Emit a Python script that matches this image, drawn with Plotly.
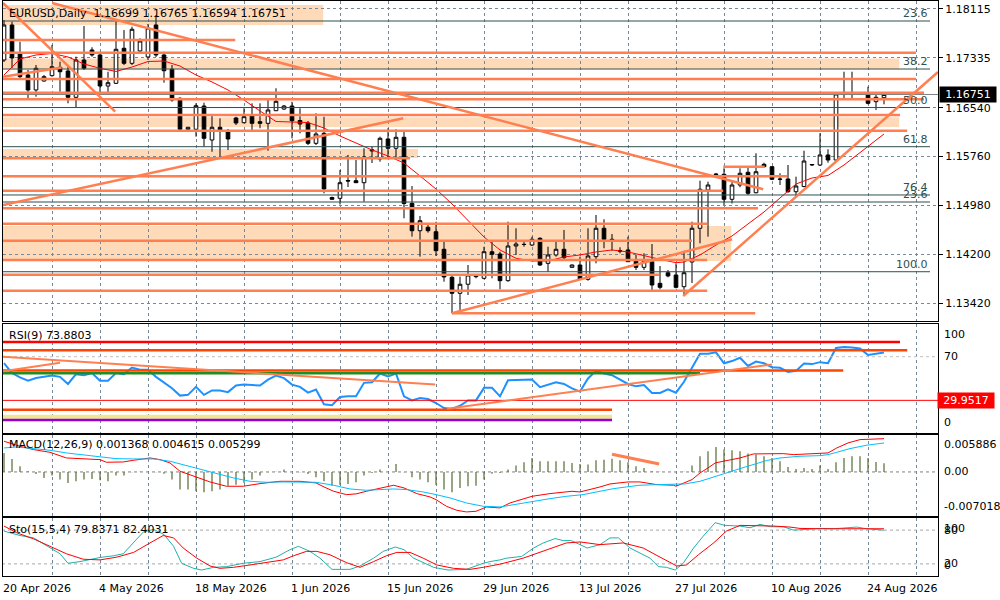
import plotly.graph_objects as go

# ---------------- EURUSD daily candles ----------------
opens = [1.17301, 1.17859, 1.17408, 1.17062, 1.16823, 1.16966, 1.17051, 1.17185, 1.17126, 1.16706,
         1.17301, 1.17461, 1.17381, 1.16886, 1.16929, 1.17488, 1.17248, 1.17445, 1.17349, 1.17859,
         1.17381, 1.17153, 1.16690, 1.16196, 1.16196, 1.16567, 1.16025, 1.16228, 1.16153, 1.16376,
         1.16301, 1.16408, 1.16317, 1.16291, 1.16492, 1.16519, 1.16567, 1.16336, 1.16296, 1.15972,
         1.16132, 1.15108, 1.15095, 1.15379, 1.15376, 1.15344, 1.15850, 1.15722, 1.16041, 1.15893,
         1.16068, 1.15015, 1.14578, 1.14633, 1.14562, 1.14282, 1.13835, 1.13580, 1.13724, 1.13845,
         1.13819, 1.14243, 1.14207, 1.13781, 1.14334, 1.14361, 1.14350, 1.14457, 1.14058, 1.14191,
         1.14282, 1.13994, 1.14031, 1.13803, 1.14164, 1.14617, 1.14441, 1.14259, 1.14271, 1.14095,
         1.13994, 1.14084, 1.13739, 1.13908, 1.13872, 1.13685, 1.14079, 1.14617, 1.15228, 1.15483,
         1.15478, 1.15079, 1.15307, 1.15510, 1.15184, 1.15637, 1.15599, 1.15403, 1.15403, 1.15200,
         1.15283, 1.15626, 1.15626, 1.15786, 1.15706, 1.16759, 1.16754, 1.16759, 1.16759, 1.16636,
         1.16699]
highs = [1.17939, 1.17912, 1.17593, 1.17142, 1.17221, 1.17062, 1.17540, 1.17274, 1.17194, 1.17354,
         1.17843, 1.17504, 1.17433, 1.17114, 1.17912, 1.17780, 1.17832, 1.17647, 1.17875, 1.18019,
         1.17433, 1.17221, 1.16706, 1.16232, 1.16610, 1.16620, 1.16440, 1.16371, 1.16201, 1.16397,
         1.16531, 1.16610, 1.16610, 1.16695, 1.16850, 1.16583, 1.16636, 1.16531, 1.16328, 1.16451,
         1.16397, 1.15121, 1.15547, 1.15786, 1.15706, 1.15893, 1.15922, 1.16078, 1.16212, 1.16196,
         1.16157, 1.15291, 1.14813, 1.14685, 1.14722, 1.14403, 1.13856, 1.13845, 1.14031, 1.13872,
         1.14323, 1.14430, 1.14243, 1.14722, 1.14617, 1.14403, 1.14483, 1.14473, 1.14323, 1.14403,
         1.14590, 1.14039, 1.14164, 1.14617, 1.14829, 1.14760, 1.14526, 1.14314, 1.14483, 1.14191,
         1.14218, 1.14366, 1.14015, 1.13952, 1.14058, 1.14259, 1.14722, 1.15376, 1.15360, 1.15499,
         1.15574, 1.15360, 1.15574, 1.15590, 1.15813, 1.15663, 1.15610, 1.15494, 1.15626, 1.15440,
         1.15854, 1.15642, 1.16132, 1.15877, 1.16762, 1.17114, 1.17114, 1.16762, 1.16875, 1.16743,
         1.16765]
lows = [1.17269, 1.17173, 1.17014, 1.16690, 1.16716, 1.16955, 1.17035, 1.16795, 1.16610, 1.16547,
        1.17142, 1.17354, 1.16795, 1.16743, 1.16918, 1.17221, 1.17221, 1.17429, 1.17301, 1.17349,
        1.16939, 1.16636, 1.16185, 1.16185, 1.16078, 1.15918, 1.15838, 1.15759, 1.15866, 1.16264,
        1.16291, 1.16185, 1.16212, 1.15854, 1.16488, 1.16504, 1.16052, 1.16132, 1.15945, 1.15945,
        1.15175, 1.15068, 1.14996, 1.15275, 1.15339, 1.15041, 1.15658, 1.15679, 1.15733, 1.15733,
        1.14776, 1.14483, 1.14164, 1.14547, 1.14175, 1.13765, 1.13261, 1.13314, 1.13553, 1.13819,
        1.13803, 1.13819, 1.13644, 1.13765, 1.14191, 1.14323, 1.14334, 1.14015, 1.13924, 1.14164,
        1.14111, 1.13991, 1.13792, 1.13781, 1.14058, 1.14298, 1.14259, 1.14218, 1.14084, 1.13952,
        1.13952, 1.13633, 1.13644, 1.13835, 1.13659, 1.13553, 1.13744, 1.14377, 1.14483, 1.15459,
        1.14988, 1.15012, 1.15271, 1.15148, 1.15175, 1.15590, 1.15387, 1.15307, 1.15184, 1.15121,
        1.15271, 1.15610, 1.15610, 1.15663, 1.15700, 1.16690, 1.16690, 1.16751, 1.16594, 1.16504,
        1.16594]
closes = [1.17859, 1.17333, 1.17035, 1.16823, 1.17169, 1.17035, 1.17194, 1.17114, 1.16706, 1.17301,
          1.17169, 1.17381, 1.16886, 1.16939, 1.17472, 1.17248, 1.17791, 1.17604, 1.17811, 1.17381,
          1.17130, 1.16663, 1.16196, 1.16228, 1.16572, 1.16052, 1.16228, 1.16185, 1.16041, 1.16296,
          1.16397, 1.16291, 1.16291, 1.16504, 1.16642, 1.16567, 1.16333, 1.16280, 1.15972, 1.16121,
          1.15244, 1.15079, 1.15344, 1.15371, 1.15344, 1.15754, 1.15866, 1.16052, 1.15893, 1.16068,
          1.15012, 1.14578, 1.14738, 1.14578, 1.14259, 1.13840, 1.13580, 1.13724, 1.13872, 1.13856,
          1.14243, 1.14202, 1.13781, 1.14334, 1.14366, 1.14358, 1.14441, 1.14031, 1.14191, 1.14282,
          1.14148, 1.14031, 1.13803, 1.14175, 1.14617, 1.14441, 1.14433, 1.14254, 1.14084, 1.13994,
          1.14095, 1.13712, 1.13675, 1.13856, 1.13675, 1.13908, 1.14617, 1.15239, 1.15307, 1.15475,
          1.15079, 1.15307, 1.15494, 1.15175, 1.15519, 1.15599, 1.15398, 1.15398, 1.15200, 1.15291,
          1.15690, 1.15634, 1.15786, 1.15706, 1.16759, 1.16754, 1.16759, 1.16755, 1.16610, 1.16706,
          1.16751]
bars = list(range(len(closes)))

# moving average (red thin line), read at bar positions
ma_idx = [0, 2, 4, 6, 8, 10, 12, 14, 16, 18, 20, 22, 24, 26, 28, 30, 32, 34, 36, 38, 40, 42,
          44, 46, 48, 50, 52, 54, 56, 58, 60, 62, 64, 66, 68, 70, 72, 74, 76, 78, 80, 82, 84,
          85, 87, 89, 91, 93, 95, 97, 99, 101, 103, 105, 107, 109, 110]
ma_val = [1.17062, 1.17317, 1.17381, 1.17405, 1.17349, 1.17237, 1.17169, 1.17118, 1.17189, 1.17277,
          1.17285, 1.17205, 1.17062, 1.16950, 1.16823, 1.16663, 1.16488, 1.16320, 1.16312, 1.16304,
          1.16216, 1.16089, 1.15977, 1.15866, 1.15770, 1.15658, 1.15451, 1.15243, 1.15004, 1.14749,
          1.14478, 1.14271, 1.14138, 1.14095, 1.14095, 1.14159, 1.14191, 1.14239, 1.14271, 1.14239,
          1.14175, 1.14122, 1.14068, 1.14079, 1.14191, 1.14350, 1.14494, 1.14685, 1.14877, 1.15100,
          1.15323, 1.15419, 1.15459, 1.15626, 1.15818, 1.16025, 1.16121]

# RSI(9)
rsi_vals = [64, 55, 51, 48, 50.5, 51.5, 52.7, 51.5, 45, 54, 53, 55, 48, 48, 55, 54, 60, 58, 58, 51.5,
            46, 41, 34.3, 35, 42.3, 35, 39, 39, 37.5, 43.5, 44.4, 43.8, 43.5, 49, 52.7, 50.3, 44.4,
            42.3, 37, 39.8, 26.3, 25.4, 33, 33.6, 33.6, 46, 46.6, 54.6, 52, 54.6, 33.6, 29.9, 32.1,
            31.2, 27.5, 22.9, 22, 25, 29.9, 29.9, 41.4, 41.4, 33.6, 48.4, 48.4, 48.4, 49, 42, 44,
            46.5, 45, 41, 38, 50, 57, 54.6, 53, 49, 45, 42.8, 44, 36.7, 36.7, 40, 37, 47, 60, 72.7,
            72.7, 74, 64, 66, 69, 61.5, 65.5, 64, 60.4, 59.8, 56, 57, 63.8, 63.2, 65, 64, 78, 78.9,
            78.5, 77.5, 71.5, 73, 73.88]

# MACD(12,26,9)
macd_hist = [0.00303, 0.00207, 0.00090, 0.00011, -0.00032, -0.00096, -0.00058, -0.00122, -0.00175, -0.00149,
             -0.00122, -0.00112, -0.00133, -0.00149, -0.00058, -0.00058, -0.00005, 0.00003, 0.00005, -0.00003,
             -0.00027, -0.00122, -0.00281, -0.00281, -0.00308, -0.00324, -0.00308, -0.00281, -0.00218, -0.00202,
             -0.00175, -0.00122, -0.00058, -0.00005, 0.00003, 0.00037, 0.00005, -0.00005, -0.00032, -0.00085,
             -0.00149, -0.00218, -0.00202, -0.00191, -0.00165, -0.00058, -0.00016, 0.00037, 0.00005, 0.00127,
             -0.00005, -0.00085, -0.00122, -0.00165, -0.00202, -0.00281, -0.00324, -0.00255, -0.00228, -0.00218,
             -0.00122, -0.00027, -0.00016, 0.00037, 0.00101, 0.00154, 0.00223, 0.00170, 0.00170, 0.00170,
             0.00170, 0.00143, 0.00127, 0.00117, 0.00186, 0.00196, 0.00212, 0.00186, 0.00154, 0.00090,
             0.00064, 0.00011, 0.00003, 0.00000, -0.00003, 0.00003, 0.00101, 0.00250, 0.00329, 0.00398,
             0.00356, 0.00345, 0.00329, 0.00292, 0.00276, 0.00250, 0.00223, 0.00170, 0.00080, 0.00048,
             0.00064, 0.00048, 0.00101, 0.00048, 0.00154, 0.00223, 0.00250, 0.00250, 0.00223, 0.00159,
             0.001368]
macd_red_idx = [0, 2, 3.7, 5.75, 7.8, 9.9, 12, 12.8, 14.9, 16.2, 18.25, 19.5, 20.75, 22, 23.7, 25.75,
                27.8, 29.9, 32, 34.5, 37, 39, 40, 41.2, 42.8, 44, 45.3, 47, 48.7, 50, 51.6, 53.25, 54,
                55.3, 56.6, 57.8, 59, 60.3, 62, 63.25, 64.5, 66, 68.25, 71, 72, 73.25, 74.5, 75.75, 78,
                79.5, 81.6, 83.7, 84, 86, 87, 88, 88.9, 89.9, 91, 92, 93.7, 95.3, 97.4, 98.7, 101.2, 103,
                104.1, 105.5, 107, 108.7, 110]
macd_red = [0.00489, 0.00409, 0.00356, 0.00313, 0.00223, 0.00207, 0.00196, 0.00154, 0.00159, 0.00186,
            0.00223, 0.00196, 0.00143, 0.00011, -0.00069, -0.00159, -0.00228, -0.00228, -0.00186, -0.00149,
            -0.00149, -0.00175, -0.00239, -0.00308, -0.00361, -0.00350, -0.00308, -0.00255, -0.00212, -0.00255,
            -0.00345, -0.00398, -0.00441, -0.00547, -0.00611, -0.00637, -0.00627, -0.00558, -0.00573, -0.00494,
            -0.00451, -0.00388, -0.00345, -0.00308, -0.00319, -0.00281, -0.00239, -0.00191, -0.00159, -0.00159,
            -0.00202, -0.00212, -0.00228, -0.00122, -0.00016, 0.00064, 0.00143, 0.00170, 0.00196, 0.00223,
            0.00287, 0.00292, 0.00292, 0.00276, 0.00292, 0.00303, 0.00382, 0.00462, 0.00515, 0.00526,
            0.005299]
macd_blue_idx = [0, 1.6, 3.7, 5.75, 7.8, 9.9, 12, 14, 16.2, 18.7, 20.75, 22.8, 24.5, 26.6, 28.7, 30.75,
                 32.8, 34.9, 37, 39, 41.2, 43.25, 45.3, 47.4, 48.7, 50.3, 52.4, 54, 55.75, 57.8, 59.9, 62,
                 63.7, 66, 68.25, 70.3, 72.4, 74.5, 76.2, 77.8, 79.5, 81.6, 83.7, 85.1, 87, 88.7, 90.3, 92,
                 93.7, 95.3, 97, 99.5, 102, 103, 104.1, 105.75, 107.8, 110]
macd_blue = [0.00382, 0.00398, 0.00372, 0.00345, 0.00303, 0.00276, 0.00239, 0.00212, 0.00207, 0.00207,
             0.00170, 0.00101, 0.00037, -0.00032, -0.00096, -0.00149, -0.00165, -0.00159, -0.00159, -0.00165,
             -0.00212, -0.00271, -0.00292, -0.00281, -0.00271, -0.00281, -0.00319, -0.00361, -0.00414, -0.00494,
             -0.00547, -0.00558, -0.00520, -0.00467, -0.00425, -0.00388, -0.00361, -0.00308, -0.00266, -0.00239,
             -0.00212, -0.00202, -0.00202, -0.00191, -0.00149, -0.00085, -0.00016, 0.00053, 0.00117, 0.00181,
             0.00223, 0.00250, 0.00260, 0.00276, 0.00313, 0.00372, 0.00425, 0.004615]

# Stochastic(15,5,4)
sto_k_idx = [0, 2, 3.7, 5.75, 7, 8, 9.5, 12, 13.7, 14.9, 16.2, 17.4, 18.7, 20, 21.2, 22.2, 23.7, 24.7,
             26.2, 27.8, 29.9, 32, 34, 35.75, 36.8, 38.25, 39.5, 41, 43.25, 44.5, 46.2, 47.4, 48.9, 50,
             51.2, 53.7, 55.5, 57.8, 59.9, 60.75, 62, 62.8, 64.7, 66.2, 67.4, 68.9, 69.9, 70.9, 72, 72.9,
             74.5, 75.75, 76.8, 78.25, 79.5, 80.75, 81.8, 82.8, 83.9, 84.9, 86.2, 87.4, 88.9, 90.1, 92,
             93.25, 94.5, 95.75, 97.4, 98.7, 100.3, 102, 103.7, 105.3, 106.6, 107.8, 110]
sto_k = [78.2, 70.4, 66.2, 48.2, 38, 21.1, 24.1, 31.4, 34.4, 38, 57.2, 76.4, 81.2, 72.2, 51.2, 21.1,
         12.1, 9.1, 13.9, 15.1, 21.1, 24.1, 31.9, 45.2, 51.2, 42.2, 30.2, 10.3, 10.3, 16.3, 30.2, 42.2,
         50, 45.2, 30.2, 13.9, 9.1, 10.3, 21.1, 24.1, 27.1, 30.2, 33.2, 48.2, 57.2, 65, 61.4, 61.4, 54.2,
         48.2, 54.2, 66.2, 66.2, 48.2, 39.2, 30.2, 15.1, 13.9, 9.1, 21.1, 48.2, 69.2, 93.2, 88.4, 87.2,
         84.2, 90.2, 86, 86, 80, 81.2, 83, 82.4, 83.6, 85.4, 82.4, 79.84]
sto_d_idx = [0, 1.6, 3.7, 5.75, 7.8, 9.9, 12, 14.1, 16.2, 18.25, 19.9, 21.2, 22.4, 24.1, 25.75, 27, 28.7,
             30.75, 32.8, 34.9, 36.2, 37.8, 39.1, 40.75, 42.8, 44.5, 46.2, 47.8, 49.1, 50.75, 52.4, 54.1,
             56.2, 58.25, 59.9, 62, 64.9, 67.4, 70.3, 72, 74.5, 77.4, 79.9, 82, 84.1, 85.3, 86.8, 88.7,
             90.3, 92, 94, 96.2, 98.25, 99.5, 102, 105.3, 107.8, 110]
sto_d = [87.2, 75.2, 64.4, 51.2, 38, 28.3, 27.1, 32, 40.4, 57.2, 70.4, 66.2, 48.2, 30.2, 16.3, 12.1,
         13.9, 18.1, 22.3, 27.1, 34.4, 42.2, 42.2, 36.2, 22.3, 13.9, 24.1, 34.4, 40.4, 40.4, 30.2, 18.1,
         12.1, 10.3, 13.9, 19.5, 30.2, 42.2, 57.2, 59, 54.2, 57.2, 48.2, 32, 16.3, 18.1, 36.2, 57.2, 78.2,
         88.4, 88.4, 87.2, 85.4, 83, 82.4, 82.4, 82.4, 82.40]

# axis labels
price_ticks = [1.18115, 1.17335, 1.16540, 1.15760, 1.14980, 1.14200, 1.13420]
last_price = 1.16751
date_idx = [0, 12, 24, 36, 48, 60, 72, 84, 96, 108]
date_text = ["20 Apr 2026", "4 May 2026", "18 May 2026", "1 Jun 2026", "15 Jun 2026",
             "29 Jun 2026", "13 Jul 2026", "27 Jul 2026", "10 Aug 2026", "24 Aug 2026"]
week_grid = list(range(6, 115, 6))

# drawn objects on the price chart
sr_price = [1.17620, 1.17417, 1.16998, 1.16779, 1.16674, 1.16424, 1.16173, 1.15733, 1.15446,
            1.15216, 1.14936, 1.14690, 1.14419, 1.14111, 1.13877, 1.13621, 1.13261, 1.15599]
sr_start = [-1, -1, -1, -1, -1, -1, -1, -1, -1, -1, -1, -1, -1, -1, -1, -1, 56, 89.9]
sr_end = [28.9, 114, 114, 115, 115, 112, 112.9, 50.75, 97.9, 89.9, 94.25, 87.9, 86, 87.9,
          81.9, 87.9, 93.9, 95.1]
band_lo = [1.17859, 1.17157, 1.16232, 1.15738, 1.14095]
band_hi = [1.18178, 1.17325, 1.16387, 1.15882, 1.14653]
band_end = [39.9, 111.9, 111.9, 51.75, 90.9]
fib_price = [1.17923, 1.17157, 1.16543, 1.15918, 1.15148, 1.15036, 1.13924]
fib_text = ["23.6", "38.2", "50.0", "61.8", "76.4", "23.6", "100.0"]
trend_lines = [(6, 1.18210, 94.9, 1.15239),
               (-0.125, 1.18210, 13.9, 1.16477),
               (-0.125, 1.14988, 49.9, 1.16371),
               (-0.125, 1.17035, 7.2, 1.17181),
               (56, 1.13261, 91, 1.14441),
               (84.9, 1.13537, 116.75, 1.17110)]

# drawn objects on the RSI window
rsi_lvl = [83.5, 76, 57.3, 54.8, 29.9517, 21.3, 15, 12]
rsi_lvl_end = [112, 112.9, 104.9, 87, 116.75, 76, 76, 76]
rsi_lvl_color = ["#FF0000", "#FF4500", "#FF4500", "#228B22", "#FF0000", "#FF4500", "#F0E68C", "#9400D3"]
rsi_lvl_width = [2.5, 2.5, 2.5, 2.5, 1, 2.5, 4, 2.5]
rsi_trends = [(-0.125, 70, 53.9, 44.4), (-0.125, 56.7, 7, 64.5), (55.4, 22.3, 96, 62.9)]
macd_trend = (76, 0.002812, 81.9, 0.001266)

CORAL = "#FF7F50"
PEACH = "#FFDAB9"
FIB = "#2F4F4F"
GRID = "#778899"
FONT = dict(family="DejaVu Sans", size=11, color="black")
XR = [-0.125, 116.75]

fig = go.Figure()

fig.add_trace(go.Candlestick(
    x=bars, open=opens, high=highs, low=lows, close=closes,
    increasing=dict(line=dict(color="black", width=1), fillcolor="white"),
    decreasing=dict(line=dict(color="black", width=1), fillcolor="black"),
    whiskerwidth=0, xaxis="x", yaxis="y", hoverinfo="skip"))
fig.add_trace(go.Scatter(x=ma_idx, y=ma_val, mode="lines", line=dict(color="#FF0000", width=1),
                         xaxis="x", yaxis="y", hoverinfo="skip"))

fig.add_trace(go.Scatter(x=bars, y=rsi_vals, mode="lines", line=dict(color="#1E90FF", width=2),
                         xaxis="x2", yaxis="y2", hoverinfo="skip"))

fig.add_trace(go.Bar(x=bars, y=macd_hist, width=0.15, marker=dict(color="#556B2F", line=dict(width=0)),
                     xaxis="x3", yaxis="y3", hoverinfo="skip"))
fig.add_trace(go.Scatter(x=macd_red_idx, y=macd_red, mode="lines", line=dict(color="#FF0000", width=1),
                         xaxis="x3", yaxis="y3", hoverinfo="skip"))
fig.add_trace(go.Scatter(x=macd_blue_idx, y=macd_blue, mode="lines", line=dict(color="#00BFFF", width=1),
                         xaxis="x3", yaxis="y3", hoverinfo="skip"))

fig.add_trace(go.Scatter(x=sto_k_idx, y=sto_k, mode="lines", line=dict(color="#20B2AA", width=1),
                         xaxis="x4", yaxis="y4", hoverinfo="skip"))
fig.add_trace(go.Scatter(x=sto_d_idx, y=sto_d, mode="lines", line=dict(color="#FF0000", width=1),
                         xaxis="x4", yaxis="y4", hoverinfo="skip"))

shapes = []


def seg(xr, yr, x0, y0, x1, y1, color, width, dash="solid", layer="above"):
    shapes.append(dict(type="line", xref=xr, yref=yr, x0=x0, y0=y0, x1=x1, y1=y1,
                       line=dict(color=color, width=width, dash=dash), layer=layer))


for lo, hi, end in zip(band_lo, band_hi, band_end):
    shapes.append(dict(type="rect", xref="x", yref="y", x0=-1, x1=end, y0=lo, y1=hi,
                       fillcolor=PEACH, line=dict(width=0), layer="below"))
for p in fib_price:
    seg("x", "y", -1, p, 115.75, p, FIB, 1)
seg("x", "y", -1, last_price, 117, last_price, "#808080", 1)
for p, s, e in zip(sr_price, sr_start, sr_end):
    seg("x", "y", s, p, e, p, CORAL, 2.5)
for x0, y0, x1, y1 in trend_lines:
    seg("x", "y", x0, y0, x1, y1, CORAL, 2.5)

seg("x2", "y2", -1, 70, 117, 70, "#C0C0C0", 1, dash="3px,3px")
for v, e, c, w in zip(rsi_lvl, rsi_lvl_end, rsi_lvl_color, rsi_lvl_width):
    seg("x2", "y2", -1, v, e, v, c, w)
for x0, y0, x1, y1 in rsi_trends:
    seg("x2", "y2", x0, y0, x1, y1, CORAL, 2)

seg("x3", "y3", -1, 0, 117, 0, "#808080", 1, dash="3px,3px", layer="below")
seg("x3", "y3", macd_trend[0], macd_trend[1], macd_trend[2], macd_trend[3], CORAL, 3)
for lv in (20, 80):
    seg("x4", "y4", -1, lv, 117, lv, "#A9A9A9", 1, dash="3px,3px", layer="below")

ann = []


def label(text, xr, x, yr, y, xa="left", ya="middle", xs=0, ys=0, **kw):
    d = dict(text=text, xref=xr, x=x, yref=yr, y=y, xanchor=xa, yanchor=ya, xshift=xs, yshift=ys,
             showarrow=False, font=kw.pop("font", FONT))
    d.update(kw)
    ann.append(d)


label("EURUSD,Daily  1.16699 1.16765 1.16594 1.16751", "paper", 0.004, "paper", 0.979)
label("RSI(9) 73.8803", "paper", 0.004, "paper", 0.419)
label("MACD(12,26,9) 0.001368 0.004615 0.005299", "paper", 0.004, "paper", 0.228)
label("Sto(15,5,4) 79.8371 82.4031", "paper", 0.004, "paper", 0.0817)

for p, t in zip(fib_price, fib_text):
    label(t, "x", 115.75, "y", p, xa="right", ya="bottom", ys=-1,
          font=dict(family="DejaVu Sans", size=11, color=FIB))

label("1.16751", "paper", 1, "y", last_price, xs=1, bgcolor="black", borderpad=1, width=54,
      align="center", font=dict(family="DejaVu Sans", size=11, color="white"))

label("100", "paper", 1, "y2", 100, ya="top", xs=4, ys=-2)
label("70", "paper", 1, "y2", 70, xs=4)
label("0", "paper", 1, "y2", 0, ya="bottom", xs=4, ys=2)
label("29.9517", "paper", 1, "y2", 29.9517, xs=-1, bgcolor="#FF0000", borderpad=1, width=54,
      align="center", font=dict(family="DejaVu Sans", size=11, color="white"))

label("0.005886", "paper", 1, "y3", 0.005886, ya="top", xs=4, ys=-1)
label("0.00", "paper", 1, "y3", 0, xs=4)
label("-0.007018", "paper", 1, "y3", -0.007018, ya="bottom", xs=4, ys=1)

label("100", "paper", 1, "y4", 100, ya="top", xs=4, ys=-1)
label("80", "paper", 1, "y4", 80, xs=4)
label("20", "paper", 1, "y4", 20, xs=4)
label("0", "paper", 1, "y4", 0, ya="bottom", xs=4, ys=1)

for i, t in zip(date_idx, date_text):
    label(t, "x4", i, "paper", 0, ya="top", xs=-3, ys=-4)

xcommon = dict(range=XR, showticklabels=False, tickvals=week_grid, showgrid=True, gridcolor=GRID,
               griddash="3px,3px", gridwidth=1, zeroline=False, showline=True, mirror=True,
               linecolor="black", linewidth=1, ticks="", fixedrange=True)
ycommon = dict(showgrid=False, zeroline=False, showline=True, mirror=True, linecolor="black",
               linewidth=1, side="right", showticklabels=False, fixedrange=True)

fig.update_layout(
    width=1000, height=600,
    margin=dict(l=3, r=62, t=1, b=24),
    paper_bgcolor="white", plot_bgcolor="white",
    showlegend=False, hovermode=False, boxgap=0.35,
    font=FONT,
    xaxis=dict(xcommon, anchor="y", domain=[0, 1], rangeslider=dict(visible=False)),
    xaxis2=dict(xcommon, anchor="y2", domain=[0, 1], matches="x"),
    xaxis3=dict(xcommon, anchor="y3", domain=[0, 1], matches="x"),
    xaxis4=dict(xcommon, anchor="y4", domain=[0, 1], matches="x"),
    yaxis=dict(ycommon, anchor="x", domain=[0.44348, 1.0], range=[1.13138, 1.18242],
               showticklabels=True, tickvals=price_ticks, ticktext=[f"{v:.5f}" for v in price_ticks],
               ticks="outside", ticklen=4, tickcolor="black", showgrid=True, gridcolor=GRID,
               griddash="3px,3px", gridwidth=1),
    yaxis2=dict(ycommon, anchor="x2", domain=[0.2487, 0.43826], range=[0, 100]),
    yaxis3=dict(ycommon, anchor="x3", domain=[0.10435, 0.24522], range=[-0.007018, 0.005886]),
    yaxis4=dict(ycommon, anchor="x4", domain=[0, 0.10087], range=[-1.5, 101.5]),
    shapes=shapes,
    annotations=ann,
)

# page body margin removed so the 1000x600 figure fills the window
fig.write_html("out.html", config={"staticPlot": True},
               post_script="document.body.style.margin='0px';document.body.style.overflow='hidden';")
